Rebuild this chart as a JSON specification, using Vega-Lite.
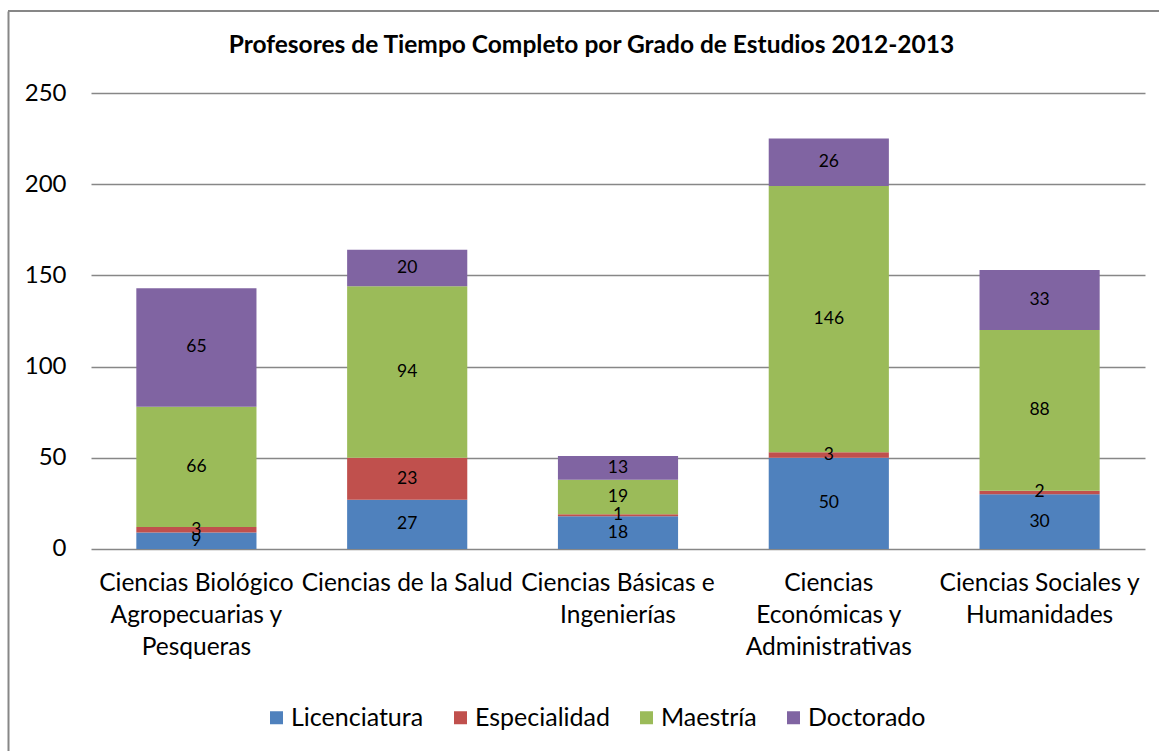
{
  "$schema": "https://vega.github.io/schema/vega-lite/v6.json",
  "width": 1151,
  "height": 740,
  "autosize": {"type": "none"},
  "padding": {"left": 8, "top": 11, "right": 0, "bottom": 0},
  "background": "white",
  "config": {"font": "Lato", "view": {"stroke": null}},
  "title": {
    "text": "Profesores de Tiempo Completo por Grado de Estudios 2012-2013",
    "fontSize": 24.5,
    "fontWeight": "bold",
    "color": "black",
    "anchor": "middle",
    "baseline": "alphabetic",
    "offset": -67,
    "dx": 8
  },
  "data": {
    "values": [
      {"area": "Ciencias Biológico\nAgropecuarias y\nPesqueras", "grado": "Licenciatura", "nivel": 1, "n": 9},
      {"area": "Ciencias Biológico\nAgropecuarias y\nPesqueras", "grado": "Especialidad", "nivel": 2, "n": 3},
      {"area": "Ciencias Biológico\nAgropecuarias y\nPesqueras", "grado": "Maestría", "nivel": 3, "n": 66},
      {"area": "Ciencias Biológico\nAgropecuarias y\nPesqueras", "grado": "Doctorado", "nivel": 4, "n": 65},
      {"area": "Ciencias de la Salud", "grado": "Licenciatura", "nivel": 1, "n": 27},
      {"area": "Ciencias de la Salud", "grado": "Especialidad", "nivel": 2, "n": 23},
      {"area": "Ciencias de la Salud", "grado": "Maestría", "nivel": 3, "n": 94},
      {"area": "Ciencias de la Salud", "grado": "Doctorado", "nivel": 4, "n": 20},
      {"area": "Ciencias Básicas e\nIngenierías", "grado": "Licenciatura", "nivel": 1, "n": 18},
      {"area": "Ciencias Básicas e\nIngenierías", "grado": "Especialidad", "nivel": 2, "n": 1},
      {"area": "Ciencias Básicas e\nIngenierías", "grado": "Maestría", "nivel": 3, "n": 19},
      {"area": "Ciencias Básicas e\nIngenierías", "grado": "Doctorado", "nivel": 4, "n": 13},
      {"area": "Ciencias\nEconómicas y\nAdministrativas", "grado": "Licenciatura", "nivel": 1, "n": 50},
      {"area": "Ciencias\nEconómicas y\nAdministrativas", "grado": "Especialidad", "nivel": 2, "n": 3},
      {"area": "Ciencias\nEconómicas y\nAdministrativas", "grado": "Maestría", "nivel": 3, "n": 146},
      {"area": "Ciencias\nEconómicas y\nAdministrativas", "grado": "Doctorado", "nivel": 4, "n": 26},
      {"area": "Ciencias Sociales y\nHumanidades", "grado": "Licenciatura", "nivel": 1, "n": 30},
      {"area": "Ciencias Sociales y\nHumanidades", "grado": "Especialidad", "nivel": 2, "n": 2},
      {"area": "Ciencias Sociales y\nHumanidades", "grado": "Maestría", "nivel": 3, "n": 88},
      {"area": "Ciencias Sociales y\nHumanidades", "grado": "Doctorado", "nivel": 4, "n": 33}
    ]
  },
  "layer": [
    {
      "mark": {"type": "bar"},
      "encoding": {
        "x": {
          "field": "area",
          "type": "nominal",
          "sort": null,
          "scale": {"range": [83, 1137], "paddingInner": 0.43, "paddingOuter": 0.215},
          "axis": {
            "orient": "bottom",
            "title": null,
            "labelAngle": 0,
            "domain": false,
            "ticks": false,
            "tickSize": 0,
            "grid": false,
            "labelPadding": -180,
            "labelBaseline": "top",
            "labelFontSize": 24.5,
            "labelColor": "black",
            "labelLineHeight": 32,
            "labelLimit": 400,
            "labelExpr": "split(datum.label, '\\n')"
          }
        },
        "y": {
          "field": "n",
          "type": "quantitative",
          "stack": "zero",
          "scale": {"domain": [-110.75, 294.96], "nice": false, "zero": false},
          "axis": {
            "title": null,
            "values": [0, 50, 100, 150, 200, 250],
            "domain": true,
            "domainColor": "#878787",
            "domainWidth": 2,
            "ticks": false,
            "tickSize": 0,
            "labelPadding": -58,
            "labelFontSize": 24,
            "labelColor": "black",
            "grid": true,
            "gridColor": "#878787",
            "gridWidth": 1.5
          }
        },
        "color": {
          "field": "grado",
          "type": "nominal",
          "scale": {
            "domain": ["Licenciatura", "Especialidad", "Maestría", "Doctorado"],
            "range": ["#4F81BD", "#C0504D", "#9BBB59", "#8064A2"]
          },
          "legend": {
            "orient": "none",
            "direction": "horizontal",
            "legendX": 256,
            "legendY": 694,
            "title": null,
            "symbolType": "square",
            "symbolSize": 169,
            "symbolStrokeWidth": 0,
            "symbolOpacity": 1,
            "labelFontSize": 25,
            "labelColor": "black",
            "labelOffset": 2,
            "labelLimit": 300,
            "columnPadding": 24,
            "padding": 0
          }
        },
        "order": {"field": "nivel", "type": "quantitative"}
      }
    },
    {
      "mark": {"type": "text", "fontSize": 17.5, "color": "black", "baseline": "middle"},
      "encoding": {
        "x": {"field": "area", "type": "nominal", "sort": null, "axis": null},
        "y": {"field": "n", "type": "quantitative", "stack": "zero", "bandPosition": 0.5, "axis": null},
        "detail": {"field": "grado"},
        "order": {"field": "nivel", "type": "quantitative"},
        "text": {"field": "n", "type": "quantitative"}
      }
    },
    {
      "mark": {"type": "rule", "color": "#878787", "strokeWidth": 2},
      "encoding": {"y": {"datum": 294.96, "axis": null}}
    }
  ],
  "resolve": {"axis": {"x": "independent", "y": "independent"}}
}
